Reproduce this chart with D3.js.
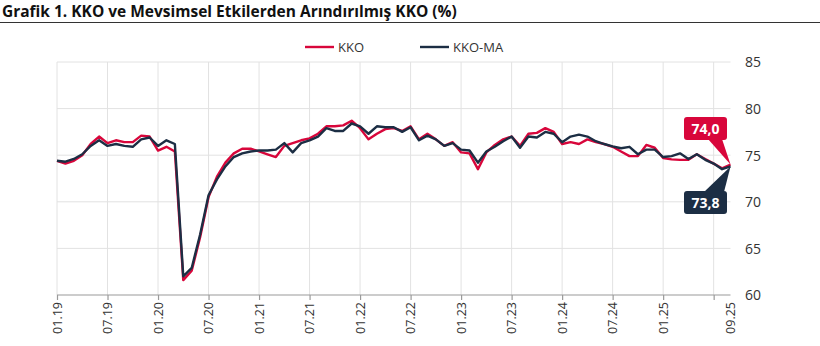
<!DOCTYPE html>
<html>
<head>
<meta charset="utf-8">
<script src="https://cdn.jsdelivr.net/npm/d3@7"></script>
<style>
  html, body { margin: 0; padding: 0; background: #fff; }
  svg { display: block; font-family: "Open Sans", "Noto Sans", sans-serif; }
</style>
</head>
<body>
<svg id="chart" width="820" height="346"></svg>
<script>
// Monthly categories 01.19 – 09.25
const years = ["19", "20", "21", "22", "23", "24", "25"];
const months = [];
years.forEach(y => {
  for (let m = 1; m <= 12; m++) {
    if (y === "25" && m > 9) break;
    months.push(String(m).padStart(2, "0") + "." + y);
  }
});

// Capacity utilisation rate (%)
const kko = [
  74.4, 74.1, 74.4, 75.0, 76.2, 77.0, 76.3, 76.6, 76.4, 76.4, 77.1, 77.0,
  75.5, 75.9, 75.4, 61.6, 62.6, 66.2, 70.5, 72.7, 74.2, 75.2, 75.7, 75.7,
  75.4, 75.1, 74.8, 76.0, 76.3, 76.6, 76.8, 77.3, 78.1, 78.1, 78.2, 78.7,
  77.9, 76.7, 77.3, 77.8, 77.9, 77.6, 78.1, 76.7, 77.3, 76.7, 76.0, 76.4,
  75.3, 75.2, 73.5, 75.3, 76.1, 76.7, 77.0, 76.0, 77.3, 77.4, 77.9, 77.5,
  76.2, 76.4, 76.2, 76.7, 76.4, 76.2, 75.9, 75.4, 74.9, 74.9, 76.1, 75.8,
  74.7, 74.55, 74.5, 74.5, 75.1, 74.6, 74.1, 73.6, 74.0
];

// Seasonally adjusted capacity utilisation rate (%)
const kkoMA = [
  74.4, 74.3, 74.6, 75.1, 76.0, 76.6, 76.0, 76.2, 76.0, 75.9, 76.7, 76.9,
  76.0, 76.6, 76.2, 62.0, 62.9, 66.5, 70.7, 72.4, 73.8, 74.8, 75.2, 75.4,
  75.5, 75.5, 75.6, 76.3, 75.3, 76.3, 76.6, 77.0, 77.9, 77.6, 77.6, 78.4,
  78.1, 77.3, 78.1, 78.0, 78.0, 77.5, 78.0, 76.6, 77.1, 76.7, 76.0, 76.3,
  75.6, 75.5, 74.2, 75.4, 75.9, 76.5, 77.0, 75.8, 77.0, 76.9, 77.5, 77.3,
  76.4, 77.0, 77.2, 77.0, 76.5, 76.2, 75.95, 75.75, 75.9, 75.1, 75.6, 75.6,
  74.8, 74.9, 75.2, 74.6, 75.1, 74.5, 74.1, 73.5, 73.8
];

const tickMonths = ["01.19", "07.19", "01.20", "07.20", "01.21", "07.21", "01.22",
  "07.22", "01.23", "07.23", "01.24", "07.24", "01.25", "07.25"];
const tickLabels = ["01.19", "07.19", "01.20", "07.20", "01.21", "07.21", "01.22",
  "07.22", "01.23", "07.23", "01.24", "07.24", "01.25", "09.25"];
const yTicks = [60, 65, 70, 75, 80, 85];

const seriesNames = ["KKO", "KKO-MA"];
const colors = { "KKO": "#d8063b", "KKO-MA": "#1c2e44" };

const svg = d3.select("#chart");

// Title with rule underneath
svg.append("text")
  .attr("x", 2).attr("y", 17)
  .attr("font-size", 15.5).attr("font-weight", 700).attr("fill", "#111")
  .text("Grafik 1. KKO ve Mevsimsel Etkilerden Arındırılmış KKO (%)");
svg.append("line")
  .attr("x1", 0).attr("x2", 820).attr("y1", 22.5).attr("y2", 22.5)
  .attr("stroke", "#333").attr("stroke-width", 1);

const x = d3.scalePoint().domain(months).range([57, 730.5]);
const y = d3.scaleLinear().domain([60, 85]).range([295, 62]);

// Grid
const grid = svg.append("g");
grid.selectAll("line.h").data(yTicks.filter(v => v > 60)).join("line")
  .attr("x1", 57).attr("x2", 730.5)
  .attr("y1", d => y(d)).attr("y2", d => y(d))
  .attr("stroke", "#e2e2e2").attr("stroke-width", 1);
grid.selectAll("line.v").data(tickMonths).join("line")
  .attr("x1", d => x(d)).attr("x2", d => x(d))
  .attr("y1", y(85)).attr("y2", y(60))
  .attr("stroke", "#e2e2e2").attr("stroke-width", 1);

// X axis
const xAxis = d3.axisBottom(x).tickValues(tickMonths).tickSize(5).tickFormat("");
const gx = svg.append("g").attr("transform", `translate(0,${y(60)})`).call(xAxis);
gx.select(".domain").attr("stroke", "#9a9a9a").attr("stroke-width", 1.2)
  .attr("d", `M${x(months[0])},0H${x(months[months.length - 1])}`);
gx.selectAll(".tick line").attr("stroke", "#9a9a9a").attr("stroke-width", 1.2);

const labelMonths = tickLabels;
svg.append("g").selectAll("text").data(labelMonths).join("text")
  .attr("transform", d => `translate(${x(d) + 4.5},302) rotate(-90)`)
  .attr("text-anchor", "end")
  .attr("font-size", 12.5).attr("fill", "#333")
  .text(d => d);

// Y axis on the right
const yAxis = d3.axisRight(y).tickValues(yTicks).tickSize(0).tickPadding(0);
const gy = svg.append("g").attr("transform", "translate(745,0)").call(yAxis);
gy.select(".domain").remove();
gy.selectAll(".tick text")
  .attr("font-size", 14).attr("fill", "#333")
  .attr("font-family", "\"Open Sans\", \"Noto Sans\", sans-serif")
  .attr("dy", "0.35em");

// Lines
const line = d3.line().x((d, i) => x(months[i])).y(d => y(d));
[["KKO", kko], ["KKO-MA", kkoMA]].forEach(([name, vals]) => {
  svg.append("path").datum(vals)
    .attr("fill", "none")
    .attr("stroke", colors[name])
    .attr("stroke-width", 2.4)
    .attr("stroke-linejoin", "round")
    .attr("d", line);
});

// Legend
const legend = svg.append("g");
const legendX = { "KKO": 305, "KKO-MA": 420 };
seriesNames.forEach(name => {
  const lx = legendX[name];
  legend.append("line")
    .attr("x1", lx).attr("x2", lx + 29).attr("y1", 47).attr("y2", 47)
    .attr("stroke", colors[name]).attr("stroke-width", 2.4);
  legend.append("text")
    .attr("x", lx + 33).attr("y", 52)
    .attr("font-size", 13).attr("fill", "#333")
    .text(name);
});

// Value callouts for the last month
const lastM = months[months.length - 1];
const tipX = x(lastM);
function callout(val, color, boxY, above) {
  const tipY = y(val);
  const bx = 684, bw = 43, bh = 23;
  const g = svg.append("g");
  if (above) {
    g.append("path")
      .attr("d", `M${bx + 24},${boxY + bh - 1}L${tipX},${tipY}L${bx + 38},${boxY + bh - 1}Z`)
      .attr("fill", color);
  } else {
    g.append("path")
      .attr("d", `M${bx + 20},${boxY + 1}L${tipX},${tipY}L${bx + 40},${boxY + 1}Z`)
      .attr("fill", color);
  }
  g.append("rect")
    .attr("x", bx).attr("y", boxY).attr("width", bw).attr("height", bh)
    .attr("rx", 3).attr("fill", color);
  g.append("text")
    .attr("x", bx + bw / 2).attr("y", boxY + 16.5)
    .attr("text-anchor", "middle")
    .attr("font-size", 14).attr("font-weight", 700).attr("fill", "#fff")
    .text(d3.format(".1f")(val).replace(".", ","));
}
callout(kko[kko.length - 1], colors["KKO"], 117, true);
callout(kkoMA[kkoMA.length - 1], colors["KKO-MA"], 191, false);
</script>
</body>
</html>
